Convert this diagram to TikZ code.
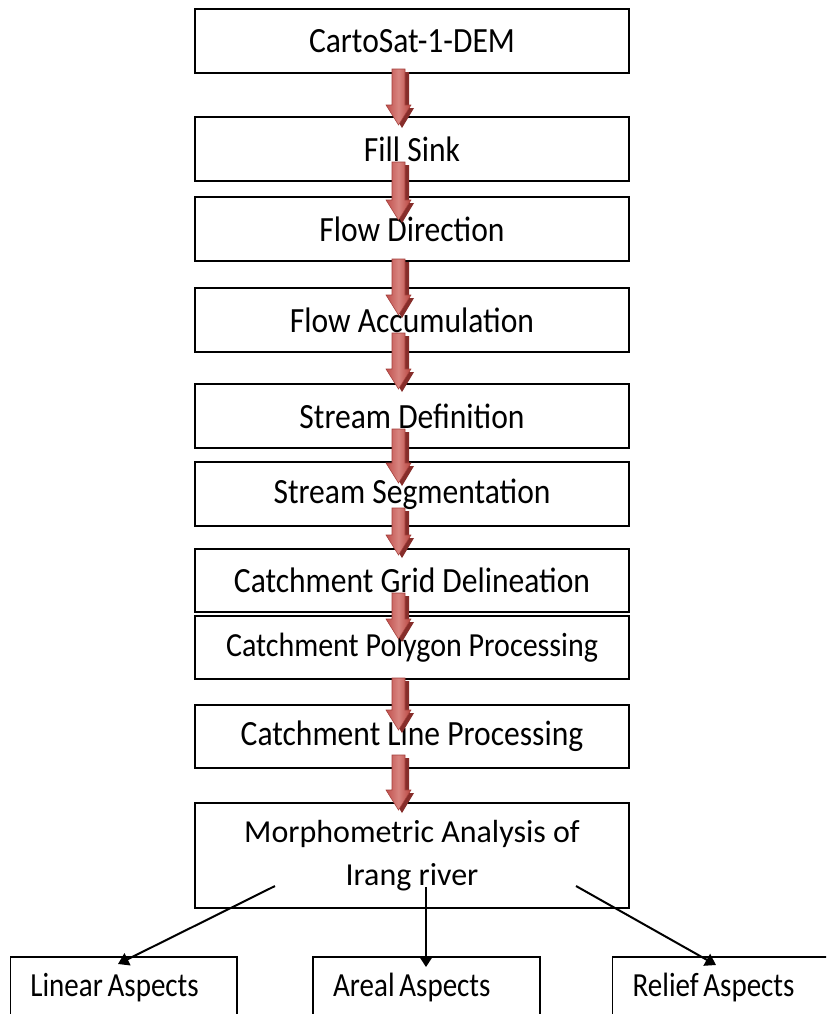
\documentclass[tikz,border=0pt]{standalone}
\usepackage{fontspec}
\setmainfont{Carlito}
\newfontfamily\condA{Carlito}[FakeStretch=0.89]
\newfontfamily\condB{Carlito}[FakeStretch=0.86]
\newcommand{\tightsp}{\spaceskip=0.14em\relax}
\usetikzlibrary{arrows.meta,calc}
\definecolor{rL}{HTML}{C0504D}
\definecolor{rM}{HTML}{D8847F}
\definecolor{rR}{HTML}{B8453F}
\definecolor{rS}{HTML}{862D2A}
\definecolor{rE}{HTML}{A33E3A}
\newcommand{\redarr}[2]{%
  \fill[rS] (396,#1+3) -- (409,#1+3) -- (409,#2-17) -- (414,#2-17) -- (402,#2+3) -- (390,#2-17) -- (396,#2-17) -- cycle;
  \shade[left color=rL, right color=rR, middle color=rM, draw=rE, line width=0.4pt]
    (392,#1) -- (405,#1) -- (405,#2-20) -- (411,#2-20) -- (398.5,#2) -- (386,#2-20) -- (392,#2-20) -- cycle;
}
\tikzset{
  box/.style={draw=black, line width=1.2pt, fill=white, minimum width=325.5pt, minimum height=48pt, inner sep=0pt, font=\condA\fontsize{26.6}{30}\selectfont},
  leaf/.style={draw=black, line width=1.2pt, fill=white, text width=140pt, align=left, inner xsep=15pt, inner ysep=0pt, minimum height=45.75pt, font=\condB\fontsize{25.3}{28}\selectfont},
  conn/.style={line width=1.5pt, -{Triangle[width=10pt,length=8pt]}}
}
\begin{document}
\begin{tikzpicture}[x=0.75pt,y=-0.75pt]
\clip (0,0) rectangle (826,1014);
\fill[white] (0,0) rectangle (826,1014);
\node[box] (b1) at (412,41) {CartoSat-1-DEM};
\node[box] (b2) at (412,149) {Fill Sink};
\node[box] (b3) at (412,229) {Flow Direction};
\node[box] (b4) at (412,320) {Flow Accumulation};
\node[box] (b5) at (412,416) {Stream Definition};
\node[box] (b6) at (412,494) {Stream Segmentation};
\node[box, minimum height=47.25pt] (b7) at (412,580.5) {Catchment Grid Delineation};
\node[box, minimum height=47.25pt, font=\condA\fontsize{25.3}{29}\selectfont] (b8) at (412,647.5) {Catchment Polygon Processing};
\node[box, minimum height=47.25pt] (b9) at (412,736.5) {Catchment Line Processing};
\node[box, minimum height=78.75pt, align=center, font=\fontsize{24}{32.25}\selectfont] (b10) at (412,855.5) {Morphometric Analysis of\\Irang river};
\node[leaf] (lin) at (123.75,987.5) {\tightsp Linear Aspects};
\node[leaf] (are) at (426.5,987.5) {\tightsp Areal Aspects};
\node[leaf] (rel) at (726,987.5) {\tightsp Relief Aspects};
\redarr{69}{125}
\redarr{162}{220}
\redarr{259}{315}
\redarr{333}{389}
\redarr{429}{483}
\redarr{508}{555}
\redarr{593}{639}
\redarr{678}{730}
\redarr{755}{810}
\coordinate (s1) at (275,886);
\coordinate (s2) at (426,887);
\coordinate (s3) at (576,886);
\coordinate (e1) at (118,964);
\coordinate (e2) at (426,967);
\coordinate (e3) at (716,965);
\draw[conn] (s1) -- (e1);
\draw[conn] (s2) -- (e2);
\draw[conn] (s3) -- (e3);
\end{tikzpicture}
\end{document}
